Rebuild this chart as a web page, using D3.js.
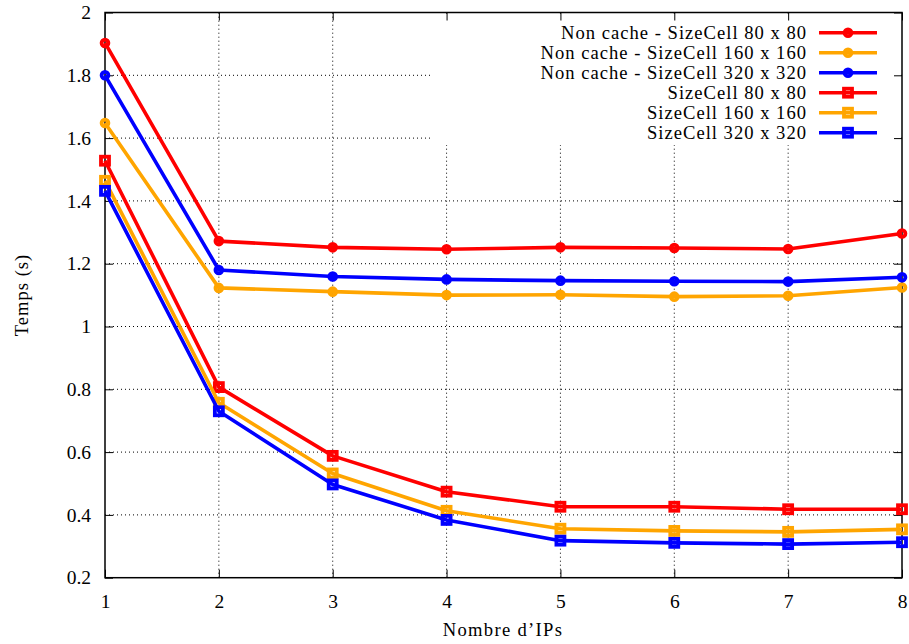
<!DOCTYPE html>
<html><head><meta charset="utf-8">
<script src="https://cdn.jsdelivr.net/npm/d3@7"></script>
<style>body{margin:0;background:#fff}svg{display:block}text{font-family:"Liberation Serif","Times New Roman",serif;fill:#000}</style>
</head><body><svg id="c" width="909" height="644"></svg>
<script>
const xValues = [1, 2, 3, 4, 5, 6, 7, 8];
const xTicks = [1, 2, 3, 4, 5, 6, 7, 8];
const yTicks = [0.2, 0.4, 0.6, 0.8, 1, 1.2, 1.4, 1.6, 1.8, 2];
const seriesNames = ["Non cache - SizeCell 80 x 80", "Non cache - SizeCell 160 x 160", "Non cache - SizeCell 320 x 320", "SizeCell 80 x 80", "SizeCell 160 x 160", "SizeCell 320 x 320"];
const nc80 = [1.903, 1.272, 1.252, 1.246, 1.252, 1.250, 1.247, 1.296];
const nc160 = [1.648, 1.123, 1.111, 1.100, 1.101, 1.095, 1.098, 1.124];
const nc320 = [1.800, 1.180, 1.159, 1.150, 1.146, 1.144, 1.143, 1.157];
const c80 = [1.528, 0.807, 0.588, 0.474, 0.426, 0.426, 0.418, 0.418];
const c160 = [1.464, 0.757, 0.532, 0.413, 0.356, 0.349, 0.346, 0.354];
const c320 = [1.432, 0.730, 0.497, 0.384, 0.318, 0.311, 0.307, 0.313];
const seriesValues = [nc80, nc160, nc320, c80, c160, c320];
const seriesColors = ["#ff0000", "#ffa500", "#0000ff", "#ff0000", "#ffa500", "#0000ff"];
const seriesMarkers = ["circle", "circle", "circle", "square", "square", "square"];

const svg = d3.select("#c");
const L = 105, R = 902, T = 12.5, B = 577.7;
const x = d3.scaleLinear().domain([1, 8]).range([L, R]);
const y = d3.scaleLinear().domain([0.2, 2]).range([B, T]);

// grid
const grid = svg.append("g");
grid.selectAll("line.gx").data(xTicks.slice(1, -1)).join("line")
  .attr("x1", d => x(d)).attr("x2", d => x(d)).attr("y1", B).attr("y2", T)
  .attr("stroke", "#000").attr("stroke-width", 1).attr("stroke-dasharray", "1,3");
grid.selectAll("line.gy").data(yTicks.slice(1, -1)).join("line")
  .attr("x1", L).attr("x2", R).attr("y1", d => y(d)).attr("y2", d => y(d))
  .attr("stroke", "#000").attr("stroke-width", 1).attr("stroke-dasharray", "1,3");

// legend background
svg.append("rect").attr("x", 430).attr("y", 15).attr("width", R - 431).attr("height", 130).attr("fill", "#fff");

// axes with inward ticks on all sides
const tickLen = 8;
const axB = d3.axisBottom(x).tickValues(xTicks).tickSize(-tickLen).tickPadding(16).tickFormat(d3.format("d"));
const axT = d3.axisTop(x).tickValues(xTicks).tickSize(-tickLen).tickFormat("");
const axLf = d3.axisLeft(y).tickValues(yTicks).tickSize(-tickLen).tickPadding(14).tickFormat(d => d3.format("")(+d.toFixed(1)));
const axRt = d3.axisRight(y).tickValues(yTicks).tickSize(-tickLen).tickFormat("");
function style(g) { g.select(".domain").remove(); g.selectAll("line").attr("stroke", "#000").attr("stroke-width", 1); g.selectAll("text").attr("font-size", 19.5).attr("font-family", "Liberation Serif, serif"); }
svg.append("g").attr("transform", `translate(0,${B})`).call(axB).call(style);
svg.append("g").attr("transform", `translate(0,${T})`).call(axT).call(style);
svg.append("g").attr("transform", `translate(${L},0)`).call(axLf).call(style);
svg.append("g").attr("transform", `translate(${R},0)`).call(axRt).call(style);
svg.append("rect").attr("x", L).attr("y", T).attr("width", R - L).attr("height", B - T)
  .attr("fill", "none").attr("stroke", "#000").attr("stroke-width", 1.5);

// series
const line = d3.line().x((d, i) => x(xValues[i])).y(d => y(d));
function marker(g, type, cx, cy, color) {
  if (type === "circle") g.append("circle").attr("cx", cx).attr("cy", cy).attr("r", 3.4).attr("fill", "none").attr("stroke", color).attr("stroke-width", 3.8);
  else g.append("rect").attr("x", cx - 4).attr("y", cy - 4).attr("width", 8).attr("height", 8).attr("fill", "none").attr("stroke", color).attr("stroke-width", 3.8);
}
seriesValues.forEach((vals, s) => {
  const g = svg.append("g");
  g.append("path").datum(vals).attr("d", line).attr("fill", "none").attr("stroke", seriesColors[s]).attr("stroke-width", 3.6).attr("stroke-linejoin", "round");
  vals.forEach((v, i) => marker(g, seriesMarkers[s], x(xValues[i]), y(v), seriesColors[s]));
});

// legend
seriesNames.forEach((name, s) => {
  const ly = 32.7 + s * 20;
  const g = svg.append("g");
  g.append("text").attr("x", 807).attr("y", ly).attr("dy", "0.35em").attr("text-anchor", "end").attr("font-size", 18.6).attr("letter-spacing", "1").text(name);
  g.append("line").attr("x1", 819).attr("x2", 877).attr("y1", ly).attr("y2", ly).attr("stroke", seriesColors[s]).attr("stroke-width", 3.6);
  marker(g, seriesMarkers[s], 848, ly, seriesColors[s]);
});

// axis titles
svg.append("text").attr("x", 503).attr("y", 636).attr("text-anchor", "middle").attr("font-size", 18.6).attr("letter-spacing", "1.3").text("Nombre d’IPs");
svg.append("text").attr("transform", "translate(28,295) rotate(-90)").attr("text-anchor", "middle").attr("font-size", 18.6).attr("letter-spacing", "1").text("Temps (s)");
</script></body></html>
